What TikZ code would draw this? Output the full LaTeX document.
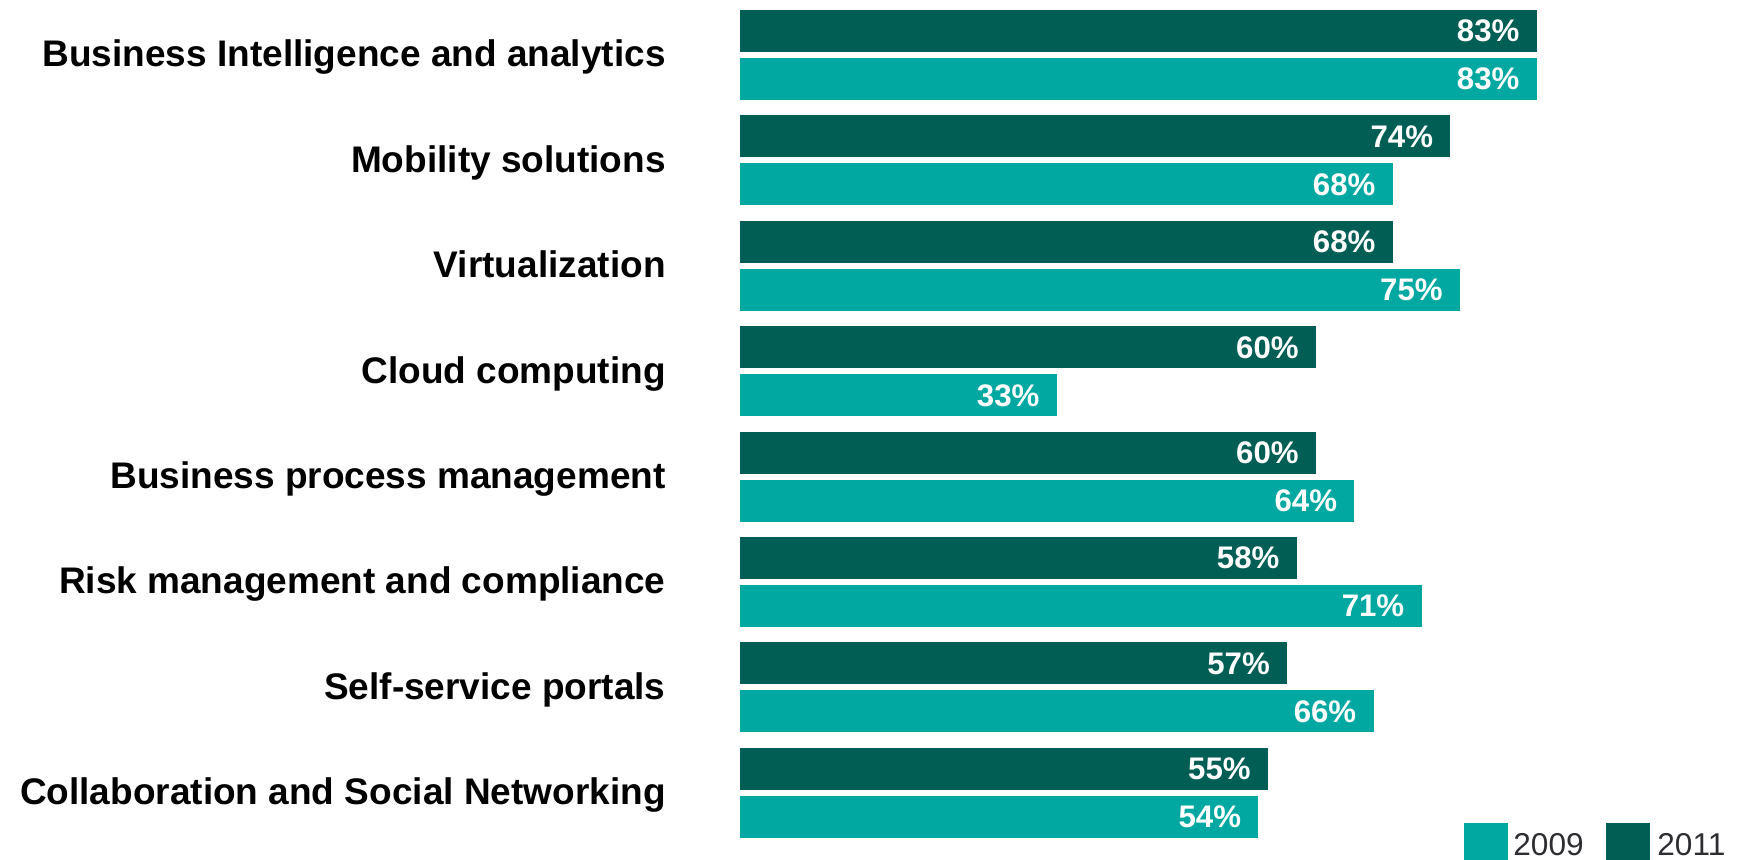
\documentclass[tikz,border=0pt]{standalone}
\usepackage{fontspec}
\setmainfont{Liberation Sans}
\usetikzlibrary{positioning}

\definecolor{darkteal}{RGB}{0,94,85}
\definecolor{lightteal}{RGB}{0,168,161}
\definecolor{legendgray}{RGB}{45,45,50}

\begin{document}
\begin{tikzpicture}[x=0.5pt,y=-0.5pt,
                cat/.style={anchor=base east,inner sep=0pt,font=\bfseries\fontsize{18.5}{20}\selectfont},
                pct/.style={anchor=base east,inner sep=0pt,text=white,font=\bfseries\fontsize{15.6}{17}\selectfont},
                leg/.style={anchor=base west,inner sep=0pt,text=legendgray,font=\fontsize{15.8}{17}\selectfont}]
                \clip (0,0) rectangle (1741,860);
                % bars: 2011 on top, 2009 below
                \foreach \name/\lbl/\new/\old [count=\i from 0] in {
                    bi/Business Intelligence and analytics/83/83,
                    mob/Mobility solutions/74/68,
                    virt/Virtualization/68/75,
                    cloud/Cloud computing/60/33,
                    bpm/Business process management/60/64,
                    risk/Risk management and compliance/58/71,
                    ssp/Self-service portals/57/66,
                    collab/Collaboration and Social Networking/55/54}{
                    \pgfmathsetmacro{\ytop}{10+105.4*\i}
                    \fill[darkteal] (740,\ytop) rectangle ({740+9.6*\new},{\ytop+42});
                    \fill[lightteal] (740,{\ytop+48}) rectangle ({740+9.6*\old},{\ytop+90});
                    \node[cat] (\name) at (666,{\ytop+57}) {\lbl};
                    \node[pct] (\name-new) at ({740+9.6*\new-17},{\ytop+32}) {\new\%};
                    \node[pct] (\name-old) at ({740+9.6*\old-17},{\ytop+80}) {\old\%};
                }
                % legend
                \fill[lightteal] (1464,823) rectangle (1508,870);
                \node[leg] (y2009) at (1513,855) {2009};
                \fill[darkteal] (1606,823) rectangle (1650,870);
                \node[leg] (y2011) at (1657,855) {2011};
\end{tikzpicture}
\end{document}
